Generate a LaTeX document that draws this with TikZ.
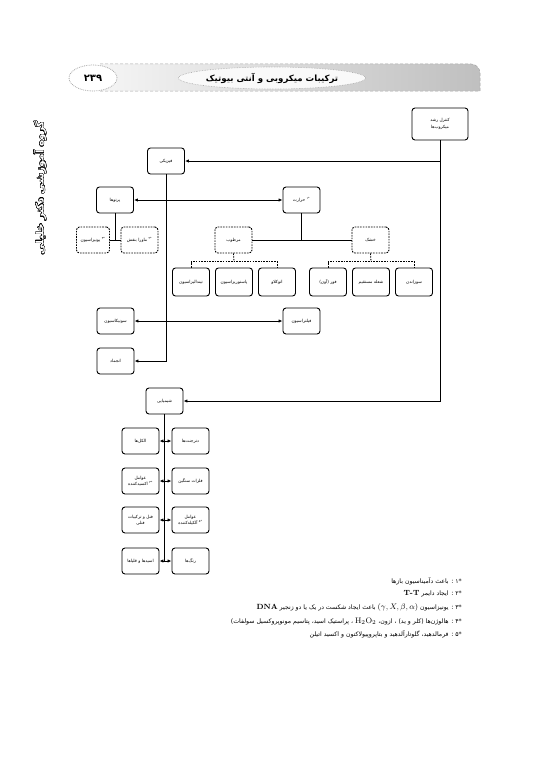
\documentclass[tikz,border=0pt]{standalone}
\usepackage{fontspec}
\usepackage{contour}
\usetikzlibrary{positioning,arrows.meta,shapes.geometric}
\TeXXeTstate=1
\newfontfamily\farsi[Script=Arabic]{DejaVu Sans}
\newcommand{\fa}[1]{{\farsi\beginR #1\endR}}
\contourlength{0.35pt}

\begin{document}
\begin{tikzpicture}[x=1pt, y=-1pt,
        node distance=43pt, % Distance between nodes
        box/.style={draw, line width=0.9pt, rounded corners=3pt, fill=white, minimum width=37pt, minimum height=26pt, inner sep=1pt, align=center, font=\fontsize{4.3}{5.5}\selectfont}, % Box styling
        dbox/.style={box, dash pattern=on 1.6pt off 1.1pt}, % Dashed box styling
        link/.style={line width=0.8pt}, % Connector styling
        dlink/.style={line width=0.8pt, dash pattern=on 1.6pt off 1.1pt},
        note/.style={anchor=east, inner sep=0pt, font=\fontsize{6.2}{7}\selectfont},
        >={Latex[length=4pt,width=3.4pt]}
        ]
        \useasboundingbox (0,0) rectangle (539,768);

        % Page header
        \shade[left color=gray!8, right color=gray!50] (100,64) [rounded corners=9pt] -- (480,64) [sharp corners] -- (480,91) -- (100,91) -- cycle;
        \draw[gray!70, densely dashed, line width=0.5pt] (100,64) [rounded corners=9pt] -- (480,64) [sharp corners] -- (480,91) -- (100,91);
        \node[ellipse, draw=gray!70, densely dotted, line width=0.8pt, fill=white, minimum width=48pt, minimum height=26pt, inner sep=0pt, font=\fontsize{10}{11}\selectfont\bfseries] (page) at (93,78) {\fa{۲۳۹}};
        \node[ellipse, draw=gray!70, densely dotted, line width=0.6pt, fill=gray!5, minimum width=156pt, minimum height=22pt, inner sep=0pt, font=\fontsize{8.6}{9}\selectfont\bfseries] (title) at (272,78) {\fa{ترکیبات میکروبی و آنتی بیوتیک}};
        \node[rotate=90, inner sep=0pt, font=\fontsize{10.5}{12}\selectfont\bfseries] (group) at (40,188) {\color{white}\contour{black}{\fa{گروه آموزشی دکتر خلیلی}}};

        % Define nodes
        \node[box, minimum width=56pt, minimum height=32pt] (control) at (440,124) {\fa{کنترل رشد}\\[1pt]\fa{میکروب‌ها}};
        \node[box] (physical) at (166,161) {\fa{فیزیکی}};
        \node[box] (rays) at (115,200) {\fa{پرتوها}};
        \node[box] (heat) at (301.5,200) {\fa{\textsuperscript{*۱} حرارت}};
        \node[dbox, minimum width=33pt] (ion) at (93,240) {\fa{\textsuperscript{*۳} یونیزاسیون}};
        \node[dbox] (uv) at (139.5,240) {\fa{\textsuperscript{*۲} ماورا بنفش}};
        \node[dbox] (moist) at (233.5,240) {\fa{مرطوب}};
        \node[dbox] (dry) at (370.5,240) {\fa{خشک}};
        \node[box, minimum height=28pt] (tyndall) at (191,282) {\fa{تیندالیزاسیون}};
        \node[box, minimum height=28pt] (pasteur) [right of=tyndall] {\fa{پاستوریزاسیون}};
        \node[box, minimum height=28pt] (autoclave) [right of=pasteur] {\fa{اتوکلاو}};
        \node[box, minimum height=28pt] (oven) at (328,282) {\fa{فور (آون)}};
        \node[box, minimum height=28pt] (flame) [right of=oven] {\fa{شعله مستقیم}};
        \node[box, minimum height=28pt] (burn) [right of=flame] {\fa{سوزاندن}};
        \node[box] (sonic) at (115.5,321) {\fa{سونیکاسیون}};
        \node[box] (filter) at (301.5,321) {\fa{فیلتراسیون}};
        \node[box] (freeze) [below of=sonic, node distance=40pt] {\fa{انجماد}};
        \node[box] (chemical) at (164.5,401) {\fa{شیمیایی}};
        \node[box] (alcohol) at (140.5,441) {\fa{الکل‌ها}};
        \node[box] (deterg) [right of=alcohol, node distance=50pt] {\fa{دترجنت‌ها}};
        \node[box] (oxid) at (140.5,481) {\fa{عوامل}\\[1pt]\fa{\textsuperscript{*۴} اکسیدکننده}};
        \node[box] (metal) [right of=oxid, node distance=50pt] {\fa{فلزات سنگین}};
        \node[box] (phenol) at (140.5,520) {\fa{فنل و ترکیبات}\\[1pt]\fa{فنلی}};
        \node[box] (alkyl) [right of=phenol, node distance=50pt] {\fa{عوامل}\\[1pt]\fa{\textsuperscript{*۵} آلکیله‌کننده}};
        \node[box] (acid) at (140.5,561) {\fa{اسیدها و قلیاها}};
        \node[box] (dye) [right of=acid, node distance=50pt] {\fa{رنگ‌ها}};

        % Draw arrows
        \draw[link, ->] (control.south) |- (physical.east);
        \draw[link, ->] (control.south) |- (chemical.east);
        \draw[link, <->] (rays.east) -- (heat.west);
        \draw[link, ->] (physical.south) |- (freeze.east);
        \draw[link, <->] (sonic.east) -- (filter.west);
        \draw[link] (rays.south) -- (rays.south |- ion.east);
        \draw[link] (ion.east) -- (uv.west);
        \draw[link] (heat.south) -- (heat.south |- moist.east);
        \draw[link] (moist.east) -- (dry.west);

        % Dashed brackets
        \draw[dlink] (moist.south) -- ([yshift=6pt]pasteur.north);
        \draw[dlink] (tyndall.north) -- ++(0,-6) -| (autoclave.north);
        \draw[dlink] (dry.south) -- ([yshift=6pt]flame.north);
        \draw[dlink] (oven.north) -- ++(0,-6) -| (burn.north);

        % Chemical pairs
        \draw[link] (chemical.south) -- (chemical.south |- acid.east);
        \foreach \l/\r in {alcohol/deterg, oxid/metal, phenol/alkyl, acid/dye}
            \draw[link, <->] (\l.east) -- (\r.west);

        % Footnotes
        \node[note] (fn1) at (462,581) {\fa{*\kern0pt۱ : باعث دآمیناسیون بازها}};
        \node[note] (fn2) at (462,594) {\fa{*\kern0pt۲ : ایجاد دایمر \beginL{\normalfont\fontsize{7.5}{8}\selectfont\bfseries T-T}\endL}};
        \node[note] (fn3) at (462,607) {\fa{*\kern0pt۳ : یونیزاسیون \beginL{\normalfont\fontsize{8}{9}\selectfont$(\gamma,X,\beta,\alpha)$}\endL{} باعث ایجاد شکست در یک یا دو زنجیر \beginL{\normalfont\fontsize{7.5}{8}\selectfont\bfseries DNA}\endL}};
        \node[note] (fn4) at (462,621) {\fa{*\kern0pt۴ : هالوژن‌ها (کلر و ید) ، ازون، \beginL{\normalfont\fontsize{8}{9}\selectfont$\mathrm{H_2O_2}$}\endL{} ، پراستیک اسید، پتاسیم مونوپروکسیل سولفات)}};
        \node[note] (fn5) at (462,634) {\fa{*\kern0pt۵ : فرمالدهید، گلوتارآلدهید و بتاپروپیولاکتون و اکسید اتیلن}};

    \end{tikzpicture}
\end{document}
